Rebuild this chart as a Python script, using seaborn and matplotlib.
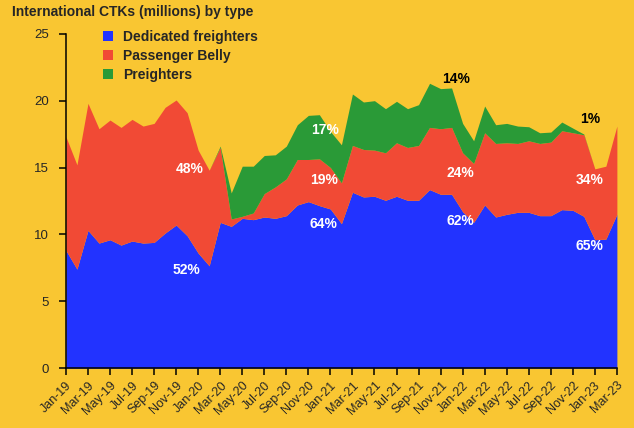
import matplotlib
matplotlib.use("Agg")
import matplotlib.pyplot as plt
from matplotlib.patches import Patch
import numpy as np
import seaborn as sns

# valores (milhões de CTKs), Jan-19 .. Mar-23
dedicated = [8.8, 7.4, 10.3, 9.35, 9.6, 9.2, 9.5, 9.35, 9.4, 10.1, 10.7, 9.9, 8.6,
             7.65, 10.9, 10.6, 11.2, 11.1, 11.3, 11.2, 11.4, 12.2, 12.45, 12.15, 11.9,
             10.8, 13.15, 12.8, 12.85, 12.55, 12.85, 12.55, 12.55, 13.35, 13.0, 13.0,
             11.7, 10.9, 12.2, 11.3, 11.5, 11.65, 11.65, 11.4, 11.4, 11.85, 11.8, 11.35,
             9.6, 9.65, 11.5]
belly_top = [17.3, 15.2, 19.8, 17.9, 18.55, 18.0, 18.6, 18.1, 18.3, 19.5, 20.05, 19.1, 16.3,
             14.8, 16.5, 11.15, 11.35, 11.6, 13.05, 13.55, 14.15, 15.6, 15.6, 15.65, 15.0,
             13.85, 16.65, 16.35, 16.3, 16.1, 16.85, 16.5, 16.65, 18.0, 17.9, 18.0,
             16.1, 15.3, 17.6, 16.8, 16.85, 16.8, 17.0, 16.8, 16.9, 17.75, 17.6, 17.45,
             14.9, 15.1, 18.1]
total = [17.3, 15.2, 19.8, 17.9, 18.55, 18.0, 18.6, 18.1, 18.3, 19.5, 20.05, 19.1, 16.3,
         14.8, 16.6, 13.1, 15.1, 15.1, 15.9, 15.95, 16.6, 18.2, 18.9, 18.95, 17.7,
         16.7, 20.5, 19.9, 20.0, 19.4, 19.95, 19.4, 19.7, 21.3, 20.9, 20.95,
         18.3, 17.0, 19.6, 18.2, 18.3, 18.1, 18.05, 17.6, 17.65, 18.4, 17.95, 17.5,
         14.9, 15.1, 18.1]

tick_labels = ['Jan-19', 'Mar-19', 'May-19', 'Jul-19', 'Sep-19', 'Nov-19',
               'Jan-20', 'Mar-20', 'May-20', 'Jul-20', 'Sep-20', 'Nov-20',
               'Jan-21', 'Mar-21', 'May-21', 'Jul-21', 'Sep-21', 'Nov-21',
               'Jan-22', 'Mar-22', 'May-22', 'Jul-22', 'Sep-22', 'Nov-22',
               'Jan-23', 'Mar-23']

series_names = ['Dedicated freighters', 'Passenger Belly', 'Preighters']
share_labels = ['48%', '52%', '17%', '19%', '64%', '14%', '24%', '62%', '1%', '34%', '65%']

bg = '#F9C632'
cores = ['#2233FF', '#F14A35', '#2A9A37']

sns.set_style('ticks')
plt.rcParams['font.family'] = ['Liberation Sans', 'DejaVu Sans']

dedicated = np.array(dedicated)
belly = np.array(belly_top) - dedicated
preighters = np.array(total) - np.array(belly_top)
x = np.arange(len(dedicated))

fig = plt.figure(figsize=(6.34, 4.28), dpi=100, facecolor=bg)
ax = fig.add_axes([0.104, 0.14, 0.869, 0.781])
ax.set_facecolor(bg)

ax.stackplot(x, dedicated, belly, preighters, colors=cores, linewidth=0, labels=series_names)

ax.set_xlim(0, len(x) - 1)
ax.set_ylim(0, 25)
ax.set_yticks(range(0, 26, 5))
ax.set_xticks(x[::2])
ax.set_xticklabels(tick_labels, rotation=45, ha='right', rotation_mode='anchor', fontsize=9)
ax.tick_params(axis='y', labelsize=9.5, length=5, width=1.1, pad=7, color='black')
ax.tick_params(axis='x', length=5, width=1.1, pad=3, color='black')
for s in ['top', 'right']:
    ax.spines[s].set_visible(False)
for s in ['left', 'bottom']:
    ax.spines[s].set_color('black')
    ax.spines[s].set_linewidth(1.1)

# rótulos de participação
posicoes = [(11.2, 14.9, 'white'), (10.9, 7.35, 'white'),
            (23.5, 17.8, 'white'), (23.4, 14.1, 'white'), (23.4, 10.8, 'white'),
            (35.4, 21.65, 'black'), (35.8, 14.6, 'white'), (35.8, 10.97, 'white'),
            (47.6, 18.6, 'black'), (47.5, 14.1, 'white'), (47.5, 9.1, 'white')]
for txt, (px, py, c) in zip(share_labels, posicoes):
    ax.text(px, py, txt, color=c, fontsize=10, fontweight='bold', ha='center', va='center')

handles = [Patch(facecolor=c, edgecolor='none') for c in cores]
leg = ax.legend(handles, series_names, loc='upper left', bbox_to_anchor=(0.044, 1.05),
                frameon=False, prop={'weight': 'bold', 'size': 10},
                handlelength=0.75, handleheight=0.75, handletextpad=0.7, labelspacing=0.38)

fig.text(0.019, 0.972, 'International CTKs (millions) by type', fontsize=10,
         fontweight='bold', ha='left', va='center')

fig.savefig('out.png', dpi=100, facecolor=bg)
